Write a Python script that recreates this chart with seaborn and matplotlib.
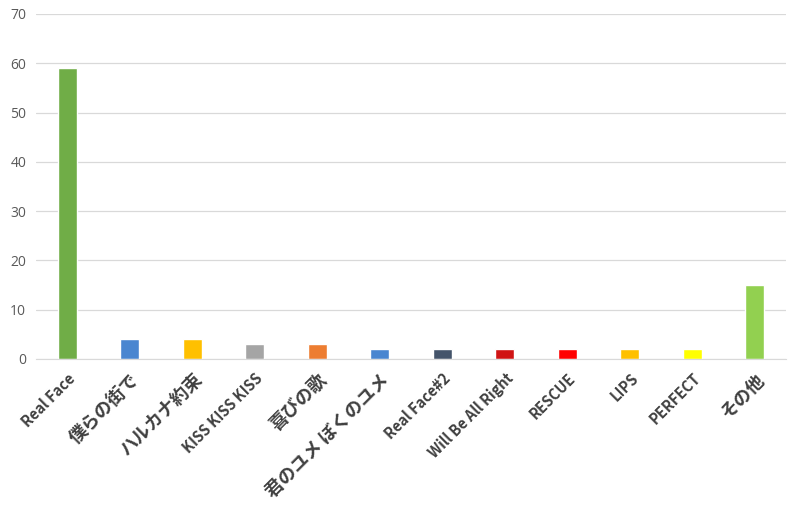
import matplotlib
matplotlib.use("Agg")
from matplotlib import pyplot as plt
import seaborn as sns

songs = ["Real Face", "僕らの街で", "ハルカナ約束", "KISS KISS KISS", "喜びの歌",
         "君のユメ ぼくのユメ", "Real Face#2", "Will Be All Right", "RESCUE",
         "LIPS", "PERFECT", "その他"]
counts = [59, 4, 4, 3, 3, 2, 2, 2, 2, 2, 2, 15]
colors = ["#70AD47", "#4A86D0", "#FFC000", "#A5A5A5", "#ED7D31", "#4A86D0",
          "#44546A", "#D01414", "#FF0000", "#FFC000", "#FFFF00", "#92D050"]

sns.set_style("white")
plt.rcParams['font.family'] = ['Noto Sans CJK JP', 'DejaVu Sans']

fig = plt.figure(figsize=(8, 5.09), dpi=100)
ax = fig.add_axes([0.045, 0.2947, 0.9375, 0.6778])

sns.barplot(x=songs, y=counts, hue=songs, palette=colors, legend=False,
            width=0.3, saturation=1, ax=ax)

ax.set_ylim(0, 70)
ax.set_xlim(-0.5, len(songs) - 0.5)
ax.set_yticks(range(0, 71, 10))
ax.yaxis.grid(True, color="#D9D9D9", linewidth=0.9)
ax.set_axisbelow(True)
for side in ["top", "right", "left"]:
    ax.spines[side].set_visible(False)
ax.spines["bottom"].set_color("#D9D9D9")
ax.tick_params(axis="both", length=0)
ax.tick_params(axis="y", labelcolor="#595959", labelsize=10, pad=7)
for t in ax.get_yticklabels():
    t.set_family(["Open Sans", "DejaVu Sans"])

ax.set_xticks(range(len(songs)))
ax.set_xticklabels(songs, rotation=45, ha="right", rotation_mode="anchor",
                   fontweight="bold", color="#404040")
# Japanese titles come out larger than the latin ones in the original
for t in ax.get_xticklabels():
    t.set_fontsize(10.5 if t.get_text().isascii() else 13)
ax.tick_params(axis="x", pad=8)
ax.set_xlabel("")
ax.set_ylabel("")

plt.savefig("out.png", dpi=100)
